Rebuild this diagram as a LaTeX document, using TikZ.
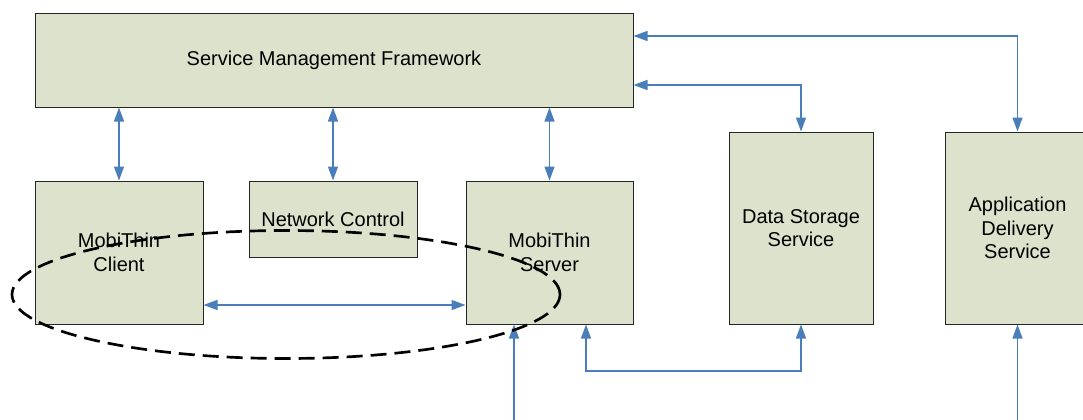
\documentclass[tikz,border=0pt]{standalone}
\usepackage{fontspec}
\setmainfont{Liberation Sans}
\usetikzlibrary{arrows.meta}
\definecolor{boxfill}{RGB}{221,226,204}
\definecolor{conncol}{RGB}{74,126,187}
\tikzset{
  box/.style={draw=black!85, line width=0.75pt, fill=boxfill, inner sep=0pt, align=center,
    font=\fontsize{15pt}{17.5pt}\selectfont},
  tip/.tip={Triangle[length=10.5pt,width=7.5pt]},
  conn/.style={draw=conncol, line width=1pt, tip-tip},
  connone/.style={draw=conncol, line width=1pt, -tip},
  group/.style={draw=black, line width=2pt, dash pattern=on 12pt off 6pt}
}
\begin{document}
\begin{tikzpicture}[x=0.75pt,y=-0.75pt]
\useasboundingbox (0,0) rectangle (1083,419);
\node[box, minimum width=448.5pt, minimum height=70.5pt] (smf) at (334,60) {Service Management Framework};
\node[box, minimum width=126pt, minimum height=107.25pt] (client) at (119,252.5) {MobiThin\\Client};
\node[box, minimum width=126pt, minimum height=57pt] (nc) at (333,219) {Network Control};
\node[box, minimum width=125.25pt, minimum height=107.25pt] (server) at (549.5,252.5) {MobiThin\\Server};
\node[box, minimum width=108pt, minimum height=144pt] (ds) at (801,228) {Data Storage\\Service};
\node[box, minimum width=108.75pt, minimum height=144pt] (ad) at (1017.5,228) {Application\\Delivery\\Service};
\coordinate (srvin) at (514,425);
\coordinate (adin) at (1017.5,425);
% SMF to lower boxes
\draw[conn] (smf.south -| client.north) -- (client.north);
\draw[conn] (smf.south -| nc.north) -- (nc.north);
\draw[conn] (smf.south -| server.north) -- (server.north);
% client - server
\draw[conn] (client.east |- 0,305) -- (server.west |- 0,305);
% SMF to right services
\draw[conn] (smf.east |- 0,36) -| (ad.north);
\draw[conn] (smf.east |- 0,85) -| (ds.north);
% server - data storage
\draw[conn] (server.south -| 586,0) -- (586,371) -| (ds.south);
% incoming from below
\draw[connone] (srvin) -- (server.south -| srvin);
\draw[connone] (adin) -- (ad.south);
% dashed group ellipse
\draw[group] (286,294.5) ellipse [x radius=205.5pt, y radius=48pt];
\end{tikzpicture}
\end{document}
